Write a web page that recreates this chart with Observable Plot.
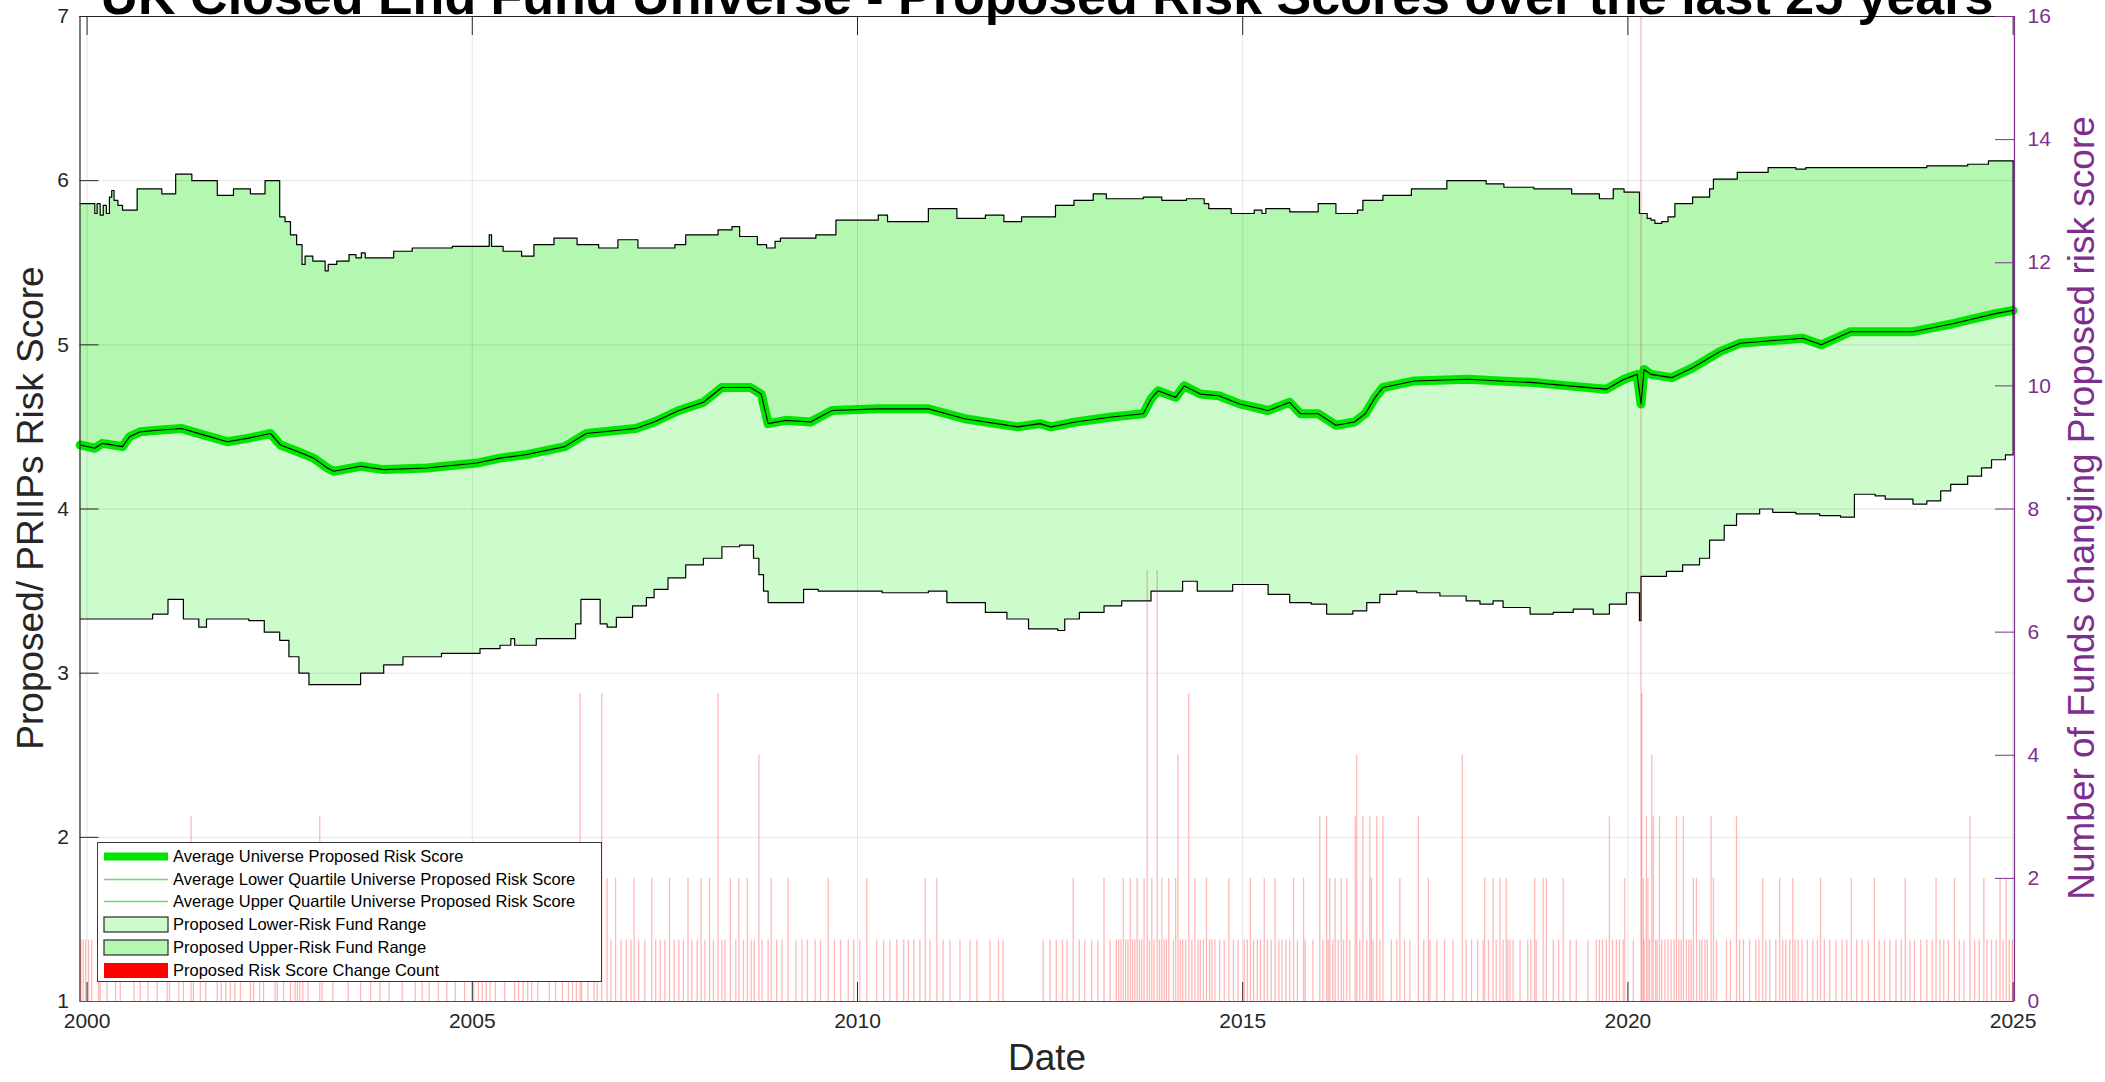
<!DOCTYPE html>
<html><head><meta charset="utf-8">
<script src="https://cdn.jsdelivr.net/npm/d3@7"></script>
<script src="https://cdn.jsdelivr.net/npm/@observablehq/plot@0.6"></script>
<style>
html,body{margin:0;padding:0;background:#fff;}
#wrap{position:relative;width:2105px;height:1082px;overflow:hidden;font-family:"Liberation Sans",Arial,Helvetica,sans-serif;}
#wrap svg.plot{position:absolute;left:0;top:0;}
#title{position:absolute;left:0;width:2094px;top:-30px;text-align:center;font-weight:bold;font-size:52px;line-height:52px;color:#000;white-space:nowrap;}
.ylab{position:absolute;white-space:nowrap;font-size:37px;line-height:37px;transform:translate(-50%,-50%) rotate(-90deg);}
#xlab{position:absolute;left:1047px;top:1076px;transform:translate(-50%,-100%);font-size:37px;line-height:37px;color:#262626;}
#legend{position:absolute;left:97px;top:842px;width:505px;height:140px;border:1.4px solid #3a3a3a;background:#fff;box-sizing:border-box;}
.lrow{position:absolute;left:0;height:22px;width:100%;}
.lrow svg{position:absolute;left:5px;top:0;}
.lrow span{position:absolute;left:75px;top:2px;font-size:16.5px;line-height:18px;color:#000;white-space:nowrap;}
</style></head><body>
<div id="wrap">
  <div id="title">UK Closed End Fund Universe - Proposed Risk Scores over the last 25 years</div>
</div>
<script>
// ---------------- data ----------------
const xTicks = [2000, 2005, 2010, 2015, 2020, 2025];
const leftTicks = [1, 2, 3, 4, 5, 6, 7];
const rightTicks = [0, 2, 4, 6, 8, 10, 12, 14, 16];

// Upper bound of the fund range (step series)
const upperT = [1999.91,2000.10,2000.13,2000.17,2000.21,2000.25,2000.29,2000.32,2000.35,2000.40,2000.46,2000.65,2000.97,2001.15,2001.36,2001.69,2001.90,2002.12,2002.31,2002.50,2002.57,2002.64,2002.72,2002.79,2002.83,2002.93,2003.09,2003.13,2003.24,2003.40,2003.49,2003.56,2003.61,2003.98,2004.22,2004.74,2005.22,2005.25,2005.40,2005.64,2005.80,2006.06,2006.36,2006.64,2006.89,2007.15,2007.63,2007.77,2008.19,2008.37,2008.47,2008.70,2008.82,2008.93,2009.00,2009.46,2009.72,2010.27,2010.39,2010.92,2011.29,2011.66,2011.90,2012.13,2012.57,2012.81,2013.06,2013.23,2013.71,2013.95,2014.27,2014.50,2014.56,2014.85,2015.15,2015.25,2015.30,2015.61,2015.98,2016.21,2016.49,2016.56,2016.82,2017.19,2017.65,2018.16,2018.39,2018.78,2019.27,2019.63,2019.81,2019.95,2020.15,2020.25,2020.30,2020.35,2020.44,2020.52,2020.61,2020.84,2021.06,2021.11,2021.42,2021.82,2022.18,2022.31,2023.88,2024.41,2024.68,2025.00];
const upperV = [5.86,5.80,5.86,5.79,5.85,5.80,5.90,5.94,5.88,5.85,5.82,5.95,5.92,6.04,6.00,5.91,5.95,5.92,6.00,5.78,5.75,5.67,5.61,5.49,5.54,5.51,5.45,5.49,5.51,5.55,5.53,5.56,5.53,5.57,5.59,5.60,5.67,5.60,5.57,5.54,5.61,5.65,5.61,5.59,5.64,5.59,5.61,5.67,5.70,5.72,5.66,5.61,5.59,5.63,5.65,5.67,5.76,5.79,5.75,5.83,5.77,5.79,5.75,5.78,5.85,5.88,5.92,5.89,5.90,5.88,5.89,5.86,5.83,5.80,5.82,5.80,5.83,5.81,5.86,5.80,5.82,5.88,5.91,5.95,6.00,5.98,5.96,5.95,5.92,5.89,5.95,5.93,5.80,5.77,5.76,5.74,5.75,5.78,5.86,5.90,5.95,6.01,6.05,6.08,6.07,6.08,6.09,6.10,6.12,6.12];

// Average universe proposed risk score
const avgT = [1999.91,2000.10,2000.20,2000.46,2000.55,2000.69,2000.91,2001.23,2001.52,2001.82,2002.08,2002.38,2002.51,2002.73,2002.94,2003.12,2003.20,2003.55,2003.85,2004.41,2005.06,2005.36,2005.69,2006.20,2006.48,2007.12,2007.36,2007.68,2008.00,2008.24,2008.61,2008.75,2008.84,2009.07,2009.39,2009.67,2010.27,2010.92,2011.39,2012.08,2012.37,2012.51,2012.83,2013.30,2013.71,2013.81,2013.90,2014.13,2014.24,2014.45,2014.69,2014.96,2015.33,2015.61,2015.75,2015.98,2016.21,2016.45,2016.59,2016.72,2016.82,2017.23,2017.93,2018.34,2018.78,2019.23,2019.72,2019.95,2020.12,2020.17,2020.21,2020.30,2020.57,2020.84,2021.20,2021.46,2022.27,2022.51,2022.89,2023.70,2024.23,2024.77,2025.00];
const avgV = [4.39,4.37,4.40,4.38,4.44,4.47,4.48,4.49,4.45,4.41,4.43,4.46,4.39,4.35,4.31,4.25,4.23,4.26,4.24,4.25,4.28,4.31,4.33,4.38,4.46,4.49,4.53,4.60,4.65,4.74,4.74,4.70,4.52,4.54,4.53,4.60,4.61,4.61,4.55,4.50,4.52,4.50,4.53,4.56,4.58,4.67,4.72,4.68,4.75,4.70,4.69,4.64,4.60,4.65,4.58,4.58,4.51,4.53,4.58,4.68,4.74,4.78,4.79,4.78,4.77,4.75,4.73,4.79,4.82,4.64,4.85,4.82,4.80,4.86,4.96,5.01,5.04,5.00,5.08,5.08,5.13,5.19,5.21];

// Lower bound of the fund range (step series)
const lowerT = [1999.91,2000.85,2001.05,2001.25,2001.45,2001.55,2002.10,2002.30,2002.50,2002.62,2002.75,2002.88,2003.55,2003.85,2004.10,2004.60,2005.10,2005.36,2005.50,2005.55,2005.83,2006.34,2006.41,2006.66,2006.75,2006.87,2007.08,2007.26,2007.36,2007.54,2007.77,2008.00,2008.24,2008.47,2008.65,2008.72,2008.78,2008.84,2009.30,2009.49,2010.32,2010.92,2011.16,2011.66,2011.94,2012.22,2012.60,2012.69,2012.88,2013.20,2013.43,2013.81,2014.22,2014.41,2014.87,2015.33,2015.61,2015.89,2016.09,2016.43,2016.61,2016.78,2017.00,2017.26,2017.56,2017.90,2018.08,2018.25,2018.38,2018.73,2019.03,2019.29,2019.55,2019.76,2019.98,2020.15,2020.17,2020.50,2020.71,2020.93,2021.06,2021.25,2021.41,2021.71,2021.88,2022.18,2022.49,2022.76,2022.94,2023.21,2023.34,2023.70,2023.88,2024.06,2024.19,2024.41,2024.59,2024.72,2024.90,2025.00];
const lowerV = [3.33,3.36,3.45,3.33,3.28,3.33,3.32,3.25,3.20,3.10,3.00,2.93,3.00,3.05,3.10,3.12,3.15,3.17,3.21,3.17,3.21,3.30,3.45,3.30,3.28,3.34,3.41,3.46,3.51,3.58,3.66,3.70,3.77,3.78,3.70,3.60,3.50,3.43,3.51,3.50,3.49,3.50,3.43,3.37,3.33,3.27,3.26,3.33,3.37,3.41,3.44,3.50,3.56,3.50,3.54,3.48,3.43,3.42,3.36,3.38,3.43,3.48,3.50,3.49,3.47,3.44,3.42,3.44,3.40,3.36,3.37,3.39,3.36,3.42,3.49,3.32,3.59,3.62,3.66,3.70,3.81,3.90,3.97,4.00,3.98,3.97,3.96,3.95,4.09,4.08,4.06,4.03,4.05,4.11,4.15,4.20,4.25,4.30,4.33,4.35];

// Number of funds changing proposed risk score: dates (decimal years) with one change
const change1T = [1999.92,1999.95,1999.98,2000.02,2000.06,2000.15,2000.17,2000.26,2000.37,2000.61,2000.69,2000.79,2000.91,2001.07,2001.19,2001.25,2001.38,2001.47,2001.54,2001.69,2001.74,2001.86,2001.92,2001.99,2002.12,2002.16,2002.24,2002.29,2002.44,2002.55,2002.64,2002.70,2002.73,2002.80,2002.87,2003.05,2003.19,2003.39,2003.55,2003.68,2003.80,2003.92,2004.09,2004.26,2004.35,2004.56,2004.67,2004.78,2004.90,2005.02,2005.08,2005.18,2005.23,2005.30,2005.42,2005.55,2005.60,2005.66,2005.72,2005.85,2006.00,2006.08,2006.25,2006.30,2006.35,2006.42,2006.50,2006.62,2006.80,2006.93,
2007.00,2007.06,2007.16,2007.24,2007.38,2007.44,2007.50,2007.62,2007.68,2007.74,2007.85,2007.92,2008.02,2008.13,2008.24,2008.28,2008.42,2008.52,2008.62,2008.66,2008.76,2008.84,2008.95,2009.02,2009.20,2009.28,2009.35,2009.45,2009.52,2009.70,2009.78,2009.88,2009.95,
2010.03,2010.25,2010.34,2010.42,2010.51,2010.60,2010.66,2010.73,2010.81,2010.94,2011.11,2011.20,2011.33,2011.46,2011.55,2011.72,2011.83,2011.89,2012.41,2012.50,2012.58,2012.66,2012.72,2012.88,2012.95,2013.04,2013.12,2013.28,
2013.36,2013.39,2013.42,2013.48,2013.51,2013.57,2013.60,2013.66,2013.69,2013.79,2013.85,2013.92,2013.98,2014.01,2014.10,2014.19,2014.22,2014.26,2014.34,2014.42,2014.45,2014.49,2014.57,2014.60,2014.64,2014.70,2014.76,2014.88,2014.94,2015.02,2015.06,2015.14,2015.19,2015.23,2015.32,2015.37,2015.47,2015.51,2015.56,2015.61,2015.71,
2015.81,2015.91,2016.04,2016.11,2016.17,2016.24,2016.31,2016.39,2016.52,2016.61,2016.69,2016.78,2016.93,2017.00,2017.10,2017.17,2017.35,2017.43,2017.52,2017.62,2017.73,2017.90,2017.97,2018.05,2018.12,2018.19,2018.29,2018.38,2018.44,2018.47,2018.51,2018.60,2018.70,2018.74,2018.81,2019.03,2019.10,2019.25,2019.33,2019.48,2019.59,2019.63,2019.67,2019.72,2019.80,2019.85,2019.89,2019.94,
2020.07,2020.21,2020.28,2020.36,2020.38,2020.44,2020.48,2020.52,2020.56,2020.60,2020.66,2020.69,2020.76,2020.79,2020.82,2020.93,2020.96,2021.00,2021.03,2021.15,2021.28,2021.33,2021.45,2021.50,2021.58,2021.66,2021.70,2021.79,2021.84,2021.92,2022.01,2022.05,2022.10,2022.17,2022.21,
2022.26,2022.33,2022.40,2022.46,2022.55,2022.62,2022.70,2022.78,2022.84,2022.97,2023.04,2023.12,2023.26,2023.33,2023.40,2023.48,2023.55,2023.66,2023.72,2023.80,2023.88,2023.95,2024.05,2024.10,2024.16,2024.30,2024.36,2024.50,2024.56,2024.66,2024.72,2024.78,2024.87,2024.95,2024.99];
// dates with two or more changes, and their counts
const changeMultiT = [2000.43,2001.04,2001.35,2001.80,2002.47,2002.76,2003.02,2004.44,2005.13,2005.77,2006.17,2006.40,2006.58,2006.68,2006.75,2006.86,
2007.10,2007.33,2007.56,2007.80,2007.97,2008.08,2008.19,2008.35,2008.46,2008.57,2008.72,2008.88,2009.10,2009.62,2010.12,2010.88,2011.03,2012.80,2013.20,
2013.45,2013.54,2013.63,2013.72,2013.76,2013.82,2013.89,2013.95,2014.04,2014.13,2014.16,2014.30,2014.38,2014.53,2014.82,2015.10,2015.28,2015.42,2015.66,2015.79,
2016.00,2016.09,2016.13,2016.20,2016.28,2016.35,2016.46,2016.48,2016.56,2016.65,2016.67,2016.74,2016.82,2017.04,2017.28,2017.41,2017.85,2018.14,2018.25,2018.34,2018.42,2018.79,2018.90,2018.94,2019.16,2019.76,2019.96,
2020.17,2020.18,2020.20,2020.24,2020.26,2020.31,2020.33,2020.41,2020.63,2020.72,2020.85,2020.89,2021.08,2021.11,2021.41,2021.75,2021.97,2022.14,
2022.50,2022.90,2023.20,2023.60,2024.00,2024.24,2024.44,2024.62,2024.83,2024.91];
const changeMultiN = [2,2,3,2,2,2,3,2,2,2,2,5,2,5,2,2,
2,2,2,2,2,2,5,2,2,2,4,2,2,2,2,2,2,2,2,
2,2,2,2,7,2,7,2,2,2,4,5,2,2,2,2,2,2,2,2,
3,3,2,2,2,2,3,4,3,3,2,3,3,2,3,2,4,2,2,2,2,2,2,2,2,3,2,
17,5,2,3,2,4,3,3,3,3,2,2,3,2,3,2,2,2,
2,2,2,2,2,2,3,2,2,2];

// ---------------- chart ----------------
const W = 2105, H = 1082;
const mL = 79.5, mR = W - 2014, mT = 16, mB = H - 1001;
const plotW = W - mL - mR, plotH = H - mT - mB;
const xDomain = [1999.908, 2025.018];
const purple = "#7E2F8E";
const ink = "#262626";
const fontFamily = '"Liberation Sans", Arial, Helvetica, sans-serif';
const fmt = d => String(d);

const upper = upperT.map((t, i) => ({t, v: upperV[i]}));
const avg = avgT.map((t, i) => ({t, v: avgV[i]}));
const lower = lowerT.map((t, i) => ({t, v: lowerV[i]}));
const changes = change1T.map(t => ({t, n: 1}))
  .concat(changeMultiT.map((t, i) => ({t, n: changeMultiN[i]})));
const lastT = upperT[upperT.length - 1];

const left = Plot.plot({
  width: W, height: H,
  marginLeft: mL, marginRight: mR, marginTop: mT, marginBottom: mB,
  x: {type: "linear", domain: xDomain, axis: null, label: null},
  y: {type: "linear", domain: [1, 7], axis: null, label: null},
  style: {fontFamily, background: "transparent", overflow: "visible"},
  marks: [
    Plot.areaY(upper, {x: "t", y1: 1, y2: "v", curve: "step-after", fill: "#b3f7b0"}),
    Plot.areaY(avg, {x: "t", y1: 1, y2: "v", fill: "#ccfccc"}),
    Plot.areaY(lower, {x: "t", y1: 1, y2: "v", curve: "step-after", fill: "#ffffff"}),
    Plot.ruleY(leftTicks.slice(1, -1), {stroke: "#000", strokeOpacity: 0.1, strokeWidth: 1}),
    Plot.ruleX(xTicks, {stroke: "#000", strokeOpacity: 0.1, strokeWidth: 1}),
    Plot.line(avg, {x: "t", y: "v", stroke: "#00e600", strokeWidth: 9, strokeLinejoin: "round", strokeLinecap: "round"}),
    Plot.line(avg, {x: "t", y: "v", stroke: "#000", strokeWidth: 1.1}),
    Plot.line(upper, {x: "t", y: "v", curve: "step-after", stroke: "#000", strokeWidth: 1.2}),
    Plot.line(lower, {x: "t", y: "v", curve: "step-after", stroke: "#000", strokeWidth: 1.2}),
    Plot.ruleX([lastT], {y1: lowerV[lowerV.length - 1], y2: upperV[upperV.length - 1], stroke: "#000", strokeWidth: 1.2}),
    Plot.tickY(leftTicks, {y: d => d, insetRight: plotW - 19, stroke: ink, strokeWidth: 1}),
    Plot.tickX(xTicks, {x: d => d, insetTop: plotH - 19, stroke: ink, strokeWidth: 1}),
    Plot.tickX(xTicks, {x: d => d, insetBottom: plotH - 19, stroke: ink, strokeWidth: 1}),
    Plot.axisY(leftTicks, {anchor: "left", tickSize: 0, tickPadding: 11, fontSize: 21, color: ink, tickFormat: fmt, label: null}),
    Plot.axisX(xTicks, {anchor: "bottom", tickSize: 0, tickPadding: 12, fontSize: 21, color: ink, tickFormat: fmt, label: null}),
    Plot.ruleX([xDomain[0]], {stroke: ink, strokeWidth: 1.2}),
    Plot.ruleY([7], {stroke: ink, strokeWidth: 1.2})
  ]
});

const right = Plot.plot({
  width: W, height: H,
  marginLeft: mL, marginRight: mR, marginTop: mT, marginBottom: mB,
  x: {type: "linear", domain: xDomain, axis: null, label: null},
  y: {type: "linear", domain: [0, 16], axis: null, label: null},
  style: {fontFamily, background: "transparent", overflow: "visible"},
  marks: [
    Plot.ruleX(changes, {x: "t", y1: 0, y2: "n", stroke: "#ff0000", strokeOpacity: 0.28, strokeWidth: 1.3, clip: true}),
    Plot.tickY(rightTicks, {y: d => d, insetLeft: plotW - 19, stroke: purple, strokeWidth: 1}),
    Plot.axisY(rightTicks, {anchor: "right", tickSize: 0, tickPadding: 13, fontSize: 21, color: purple, tickFormat: fmt, label: null}),
    Plot.ruleX([xDomain[1]], {stroke: purple, strokeWidth: 1.2}),
    Plot.ruleY([0], {stroke: purple, strokeWidth: 1.2})
  ]
});

left.classList.add("plot");
right.classList.add("plot");
const wrap = document.getElementById("wrap");
wrap.insertBefore(left, wrap.firstChild);
wrap.insertBefore(right, left.nextSibling);

function addDiv(id, cls, text, css) {
  const d = document.createElement("div");
  if (id) d.id = id;
  if (cls) d.className = cls;
  d.textContent = text;
  Object.assign(d.style, css || {});
  wrap.appendChild(d);
  return d;
}
addDiv(null, "ylab", "Proposed/ PRIIPs Risk Score", {left: "30px", top: "508px", color: ink});
addDiv(null, "ylab", "Number of Funds changing Proposed risk score", {left: "2081px", top: "508px", color: purple});
addDiv("xlab", null, "Date");

// legend
const legendItems = [
  {label: "Average Universe Proposed Risk Score", kind: "line", color: "#00e600", w: 8},
  {label: "Average Lower Quartile Universe Proposed Risk Score", kind: "line", color: "#66dd66", w: 1.5},
  {label: "Average Upper Quartile Universe Proposed Risk Score", kind: "line", color: "#66dd66", w: 1.5},
  {label: "Proposed Lower-Risk Fund Range", kind: "patch", color: "#ccfccc"},
  {label: "Proposed Upper-Risk Fund Range", kind: "patch", color: "#b3f7b0"},
  {label: "Proposed Risk Score Change Count", kind: "bar", color: "#ff0000"}
];
const legend = document.createElement("div");
legend.id = "legend";
legendItems.forEach((it, i) => {
  const row = document.createElement("div");
  row.className = "lrow";
  row.style.top = (2 + i * 22.7) + "px";
  const svgNS = "http://www.w3.org/2000/svg";
  const s = document.createElementNS(svgNS, "svg");
  s.setAttribute("width", 66); s.setAttribute("height", 22);
  if (it.kind === "line") {
    const l = document.createElementNS(svgNS, "line");
    l.setAttribute("x1", 1); l.setAttribute("x2", 65); l.setAttribute("y1", 11.5); l.setAttribute("y2", 11.5);
    l.setAttribute("stroke", it.color); l.setAttribute("stroke-width", it.w);
    s.appendChild(l);
  } else {
    const r = document.createElementNS(svgNS, "rect");
    r.setAttribute("x", 1); r.setAttribute("y", 4); r.setAttribute("width", 64); r.setAttribute("height", 15);
    r.setAttribute("fill", it.color);
    r.setAttribute("stroke", it.kind === "patch" ? "#3a3a3a" : "none");
    r.setAttribute("stroke-width", 1.3);
    s.appendChild(r);
  }
  row.appendChild(s);
  const sp = document.createElement("span");
  sp.textContent = it.label;
  row.appendChild(sp);
  legend.appendChild(row);
});
wrap.appendChild(legend);
</script>
</body></html>
